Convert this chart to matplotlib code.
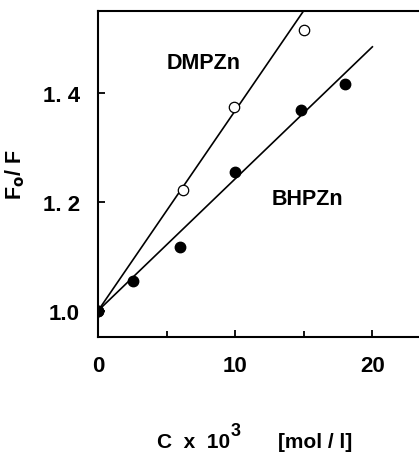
import matplotlib.pyplot as plt
import numpy as np

plt.rcParams['font.family'] = ['Liberation Sans', 'DejaVu Sans']

# Concentration (x 10^3 mol/l) and Stern-Volmer ratio F0/F
c_dmpzn = [0.0, 6.2, 9.9, 15.0]
r_dmpzn = [1.0, 1.222, 1.374, 1.514]
c_bhpzn = [0.0, 2.55, 6.0, 10.0, 14.8, 18.0]
r_bhpzn = [1.0, 1.055, 1.116, 1.255, 1.369, 1.415]

# Stern-Volmer slopes of the fitted lines
k_dmpzn = 0.0367
k_bhpzn = 0.0242
x_end_dmpzn = 15.0
x_end_bhpzn = 20.0

fig = plt.figure(figsize=(4.19, 4.56), dpi=100)
ax = fig.add_axes([0.234, 0.259, 0.766, 0.715])

xd = np.array([0.0, x_end_dmpzn])
xb = np.array([0.0, x_end_bhpzn])
ax.plot(xd, 1.0 + k_dmpzn * xd, color='black', lw=1.2)
ax.plot(xb, 1.0 + k_bhpzn * xb, color='black', lw=1.2)

ax.plot(c_dmpzn, r_dmpzn, 'o', ms=7.5, mfc='white', mec='black', mew=0.9)
ax.plot(c_bhpzn, r_bhpzn, 'o', ms=7.5, mfc='black', mec='black')

ax.set_xlim(0, 23.4)
ax.set_ylim(0.952, 1.55)
ax.set_xticks([0, 10, 20])
ax.set_xticks([5, 15], minor=True)
ax.set_yticks([1.0, 1.2, 1.4])
ax.set_yticklabels(['1.0', '1. 2', '1. 4'])

ax.spines['right'].set_visible(False)
for s in ['left', 'bottom', 'top']:
    ax.spines[s].set_linewidth(1.5)

ax.tick_params(axis='both', which='both', direction='in', width=1.3)
ax.tick_params(axis='x', which='major', length=5, pad=13)
ax.tick_params(axis='x', which='minor', length=4)
ax.tick_params(axis='y', which='major', length=5, pad=13)
for lbl in ax.get_xticklabels() + ax.get_yticklabels():
    lbl.set_fontweight('bold')
    lbl.set_fontsize(16)

ax.text(7.7, 1.456, 'DMPZn', fontsize=15.5, fontweight='bold', ha='center', va='center')
ax.text(15.3, 1.206, 'BHPZn', fontsize=15.5, fontweight='bold', ha='center', va='center')

ax.set_ylabel('F$_\\mathbf{o}$/ F', fontsize=15.5, fontweight='bold')
ax.yaxis.set_label_coords(-0.22, 0.5)

# x-axis title in three pieces so the exponent can sit large and high
base = 8 / 456
fig.text(230 / 419, base, 'C  x  10', fontsize=15, fontweight='bold', ha='right', va='baseline')
fig.text(231 / 419, base + 12 / 456, '3', fontsize=13, fontweight='bold', ha='left', va='baseline')
fig.text(352 / 419, base, '[mol / l]', fontsize=15, fontweight='bold', ha='right', va='baseline')

fig.savefig('out.png', dpi=100)
